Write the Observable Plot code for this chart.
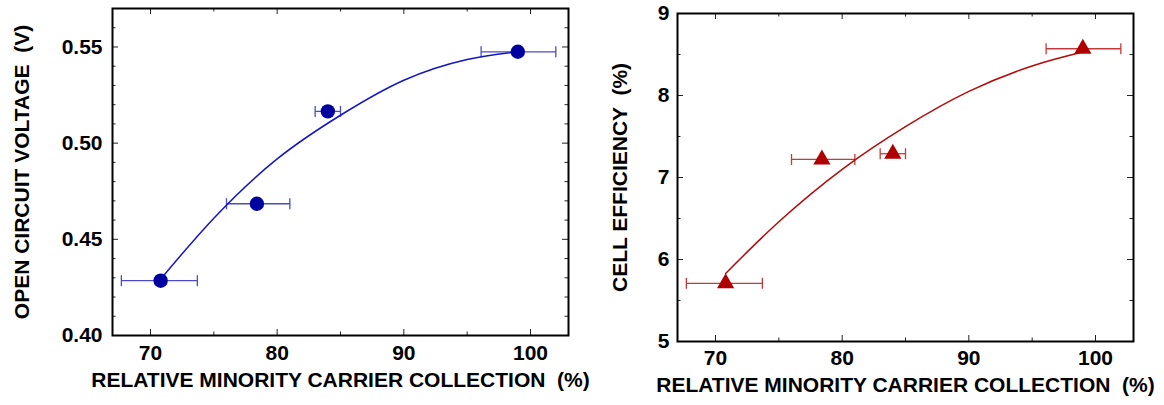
<!DOCTYPE html>
<html>
<head>
<meta charset="utf-8">
<script src="https://cdn.jsdelivr.net/npm/d3@7"></script>
<script src="https://cdn.jsdelivr.net/npm/@observablehq/plot@0.6"></script>
<style>
  html, body { margin: 0; padding: 0; background: #fff; }
  #wrap { display: flex; flex-direction: row; width: 1164px; height: 405px; }
  #wrap svg { overflow: visible; background: none !important; }
</style>
</head>
<body>
<div id="wrap"></div>
<script>
// ---- data ----
const collection   = [70.8, 78.4, 84.0, 99.0];      // relative minority carrier collection (%)
const collectionLo = [67.7, 76.0, 83.0, 96.1];
const collectionHi = [73.7, 81.0, 85.0, 102.0];
const voc          = [0.4285, 0.4685, 0.5165, 0.5475]; // open circuit voltage (V)
const efficiency   = [5.71, 7.22, 7.29, 8.57];        // cell efficiency (%)

// fitted curves as drawn in the figure
const vocCurveX = [70.7, 75, 80, 85, 90, 95, 99];
const vocCurveY = [0.4285, 0.4610, 0.4918, 0.5145, 0.5327, 0.5435, 0.5475];
const effCurveX = [70.8, 75, 80, 85, 90, 95, 99];
const effCurveY = [5.83, 6.46, 7.10, 7.62, 8.05, 8.36, 8.53];

// axes
const xTicks      = [70, 80, 90, 100];
const xMinorTicks = [75, 85, 95];
const vocTicks      = [0.40, 0.45, 0.50, 0.55];
const vocMinorTicks = [0.41, 0.42, 0.43, 0.44, 0.46, 0.47, 0.48, 0.49, 0.51, 0.52, 0.53, 0.54, 0.56];
const effTicks      = [5, 6, 7, 8, 9];
const effMinorTicks = [5.5, 6.5, 7.5, 8.5];

const xTitle   = "RELATIVE MINORITY CARRIER COLLECTION  (%)";
const vocTitle = "OPEN CIRCUIT VOLTAGE  (V)";
const effTitle = "CELL EFFICIENCY  (%)";

// ---- build ----
const pts = collection.map((c, i) => ({x: c, lo: collectionLo[i], hi: collectionHi[i], voc: voc[i], eff: efficiency[i]}));
const vocCurve = vocCurveX.map((x, i) => ({x, y: vocCurveY[i]}));
const effCurve = effCurveX.map((x, i) => ({x, y: effCurveY[i]}));

const capSymbol = {draw(ctx, size) { const h = Math.sqrt(size / Math.PI); ctx.moveTo(0, -h); ctx.lineTo(0, h); }};
const FONT = "'Liberation Sans', Arial, Helvetica, sans-serif";

function tickMarks(fw, fh, xs, xsMinor, ys, ysMinor) {
  const st = {stroke: "#222", strokeWidth: 1};
  const M = 6, m = 3.5;
  return [
    Plot.ruleX(xs, {x: d => d, insetTop: fh - M, ...st}),
    Plot.ruleX(xs, {x: d => d, insetBottom: fh - M, ...st}),
    Plot.ruleX(xsMinor, {x: d => d, insetTop: fh - m, ...st}),
    Plot.ruleX(xsMinor, {x: d => d, insetBottom: fh - m, ...st}),
    Plot.ruleY(ys, {y: d => d, insetRight: fw - M, ...st}),
    Plot.ruleY(ys, {y: d => d, insetLeft: fw - M, ...st}),
    Plot.ruleY(ysMinor, {y: d => d, insetRight: fw - m, ...st}),
    Plot.ruleY(ysMinor, {y: d => d, insetLeft: fw - m, ...st})
  ];
}

function panel({width, height, mL, mR, mT, mB, yKey, yDomain, yTicks, yMinor, yFormat, curve, yTitle,
                markerColor, lineColor, errColor, symbol, r, xTitleDy, yTitleDx, xTickPad, yTickPad}) {
  const fw = width - mL - mR, fh = height - mT - mB;
  return Plot.plot({
    width, height,
    marginLeft: mL, marginRight: mR, marginTop: mT, marginBottom: mB,
    style: {fontFamily: FONT, fontSize: "21px", fontWeight: "bold", color: "#000", background: "none", overflow: "visible"},
    x: {domain: [67, 103], ticks: xTicks, tickSize: 0, tickPadding: xTickPad, label: null},
    y: {domain: yDomain, ticks: yTicks, tickSize: 0, tickPadding: yTickPad, tickFormat: yFormat, label: null},
    marks: [
      ...tickMarks(fw, fh, xTicks, xMinorTicks, yTicks, yMinor),
      Plot.frame({stroke: "#000", strokeWidth: 2}),
      Plot.link(pts, {x1: "lo", x2: "hi", y1: yKey, y2: yKey, stroke: errColor, strokeWidth: 1.3}),
      Plot.dot(pts, {x: "lo", y: yKey, symbol: capSymbol, r: 5.5, stroke: errColor, fill: "none", strokeWidth: 1.3}),
      Plot.dot(pts, {x: "hi", y: yKey, symbol: capSymbol, r: 5.5, stroke: errColor, fill: "none", strokeWidth: 1.3}),
      Plot.line(curve, {x: "x", y: "y", curve: "natural", stroke: lineColor, strokeWidth: 1.5}),
      Plot.dot(pts, {x: "x", y: yKey, symbol, r, fill: markerColor, stroke: "none"}),
      Plot.text([xTitle], {frameAnchor: "bottom", textAnchor: "middle", dy: xTitleDy, text: d => d, fontSize: 21, fontWeight: "bold", fontFamily: FONT, fill: "#000"}),
      Plot.text([yTitle], {frameAnchor: "left", textAnchor: "middle", dx: yTitleDx, rotate: -90, text: d => d, fontSize: 21, fontWeight: "bold", fontFamily: FONT, fill: "#000"})
    ]
  });
}

const left = panel({
  width: 580, height: 405, mL: 112, mR: 12, mT: 8, mB: 70,
  yKey: "voc", yDomain: [0.40, 0.57], yTicks: vocTicks, yMinor: vocMinorTicks, yFormat: d3.format(".2f"),
  curve: vocCurve, yTitle: vocTitle,
  markerColor: "#0000a0", lineColor: "#1414c4", errColor: "#4b4bc8", symbol: "circle", r: 7.2,
  xTitleDy: 51.3, yTitleDx: -90.7, xTickPad: 10, yTickPad: 10
});
const right = panel({
  width: 584, height: 405, mL: 97, mR: 31, mT: 13, mB: 64,
  yKey: "eff", yDomain: [5, 9], yTicks: effTicks, yMinor: effMinorTicks, yFormat: d3.format("d"),
  curve: effCurve, yTitle: effTitle,
  markerColor: "#b00000", lineColor: "#b40a0a", errColor: "#c43a3a", symbol: "triangle", r: 6.4,
  xTitleDy: 50.3, yTitleDx: -57.2, xTickPad: 9, yTickPad: 8
});

document.getElementById("wrap").append(left, right);
</script>
</body>
</html>
